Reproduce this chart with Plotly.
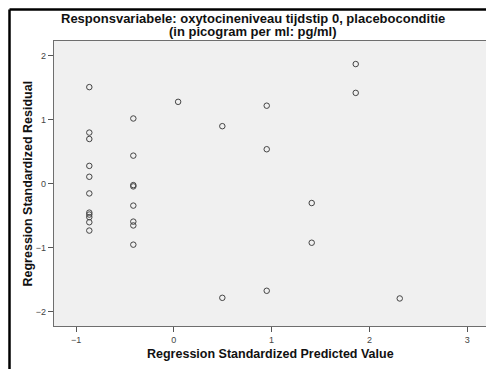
import plotly.graph_objects as go

# Data
pred = [-0.864] * 11 + [-0.414] * 8 + [0.044] + [0.496] * 2 + [0.95] * 3 + [1.41] * 2 + [1.86] * 2 + [2.31]
resid = [1.51, 0.80, 0.70, 0.28, 0.11, -0.15, -0.45, -0.48, -0.52, -0.60, -0.73,
         1.02, 0.44, -0.02, -0.04, -0.34, -0.59, -0.65, -0.95,
         1.28,
         0.90, -1.78,
         1.22, 0.54, -1.67,
         -0.30, -0.92,
         1.87, 1.42,
         -1.79]

x_ticks = [-1, 0, 1, 2, 3]
y_ticks = [-2, -1, 0, 1, 2]

title_line1 = "Responsvariabele: oxytocineniveau tijdstip 0, placeboconditie"
title_line2 = "(in picogram per ml: pg/ml)"
x_title = "Regression Standardized Predicted Value"
y_title = "Regression Standardized Residual"

fig = go.Figure()
fig.add_trace(go.Scatter(
    x=pred, y=resid, mode="markers",
    marker=dict(symbol="circle-open", size=5.5, color="#444444", line=dict(width=1, color="#444444")),
    showlegend=False, hoverinfo="skip",
))

axis_common = dict(
    showgrid=False, zeroline=False, showline=True, linecolor="#6e6e6e", linewidth=1.2,
    ticks="outside", ticklen=5, tickcolor="#555555", tickwidth=1.2,
    tickfont=dict(family="Liberation Sans, Arial", size=9, color="#444444"),
)

def py(p):
    return (326 - p) / 285

def px(p):
    return (p - 54) / 432

fig.update_layout(
    width=486, height=369,
    margin=dict(l=54, r=0, t=41, b=43),
    paper_bgcolor="white", plot_bgcolor="#f0f0f0",
    font=dict(family="Liberation Sans, Arial", color="black"),
    xaxis=dict(range=[-1.225, 3.192], tickvals=x_ticks, mirror=True, **axis_common),
    yaxis=dict(range=[-2.22, 2.23], tickvals=y_ticks, mirror=False, **axis_common),
    annotations=[
        dict(text="<b>" + title_line1 + "</b>", x=px(252.5), y=py(19), xref="paper", yref="paper",
             showarrow=False, xanchor="center", yanchor="middle",
             font=dict(size=13, family="Liberation Sans, Arial", color="#111111")),
        dict(text="<b>" + title_line2 + "</b>", x=px(252.5), y=py(31.5), xref="paper", yref="paper",
             showarrow=False, xanchor="center", yanchor="middle",
             font=dict(size=13, family="Liberation Sans, Arial", color="#111111")),
        dict(text="<b>" + x_title + "</b>", x=0.5, y=py(354), xref="paper", yref="paper",
             showarrow=False, xanchor="center", yanchor="middle",
             font=dict(size=12.5, family="Liberation Sans, Arial", color="#111111")),
        dict(text="<b>" + y_title + "</b>", x=px(27), y=0.5, xref="paper", yref="paper",
             showarrow=False, textangle=-90, xanchor="center", yanchor="middle",
             font=dict(size=12.5, family="Liberation Sans, Arial", color="#111111")),
    ],
    shapes=[
        dict(type="line", xref="paper", yref="paper", x0=px(9.5), x1=px(9.5),
             y0=py(9.5), y1=-0.2, line=dict(color="black", width=2.5)),
        dict(type="line", xref="paper", yref="paper", x0=px(9.5), x1=1.05,
             y0=py(9.5), y1=py(9.5), line=dict(color="black", width=2.5)),
    ],
)

fig.write_html("out.html")
